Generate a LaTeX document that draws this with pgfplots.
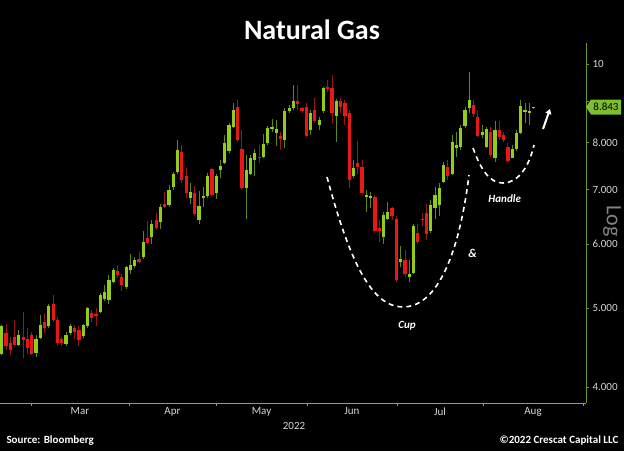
\documentclass[border=0pt]{standalone}
\usepackage{fontspec}
\setmainfont{Carlito}
\usepackage{pgfplots}
\usepackage{pgfplotstable}
\pgfplotsset{compat=1.18}
\usetikzlibrary{arrows.meta}
\definecolor{nggreen}{RGB}{145,205,25}
\definecolor{nggreenw}{RGB}{95,135,20}
\definecolor{ngred}{RGB}{235,22,22}
\definecolor{ngredw}{RGB}{150,25,25}
\definecolor{axgreen}{RGB}{100,150,40}
\definecolor{ticklbl}{RGB}{215,215,215}
\definecolor{axgray}{RGB}{150,150,150}
\definecolor{loggray}{RGB}{130,130,130}
\definecolor{lastfill}{RGB}{125,190,45}

\pgfplotstableread{
k o h l c
1 4.40 4.77 4.38 4.75
2 4.66 4.79 4.44 4.49
3 4.53 4.61 4.38 4.44
4 4.61 4.84 4.49 4.51
5 4.51 4.70 4.49 4.64
6 4.61 4.95 4.34 4.57
7 4.58 4.73 4.40 4.47
8 4.64 4.68 4.38 4.40
9 4.41 4.64 4.36 4.58
10 4.60 4.91 4.59 4.77
11 4.81 4.93 4.66 4.73
12 4.76 5.07 4.73 5.03
13 5.06 5.19 4.81 4.84
14 4.84 4.88 4.51 4.53
15 4.58 4.61 4.49 4.53
16 4.52 4.68 4.50 4.64
17 4.66 4.79 4.64 4.75
18 4.73 4.77 4.59 4.67
19 4.70 4.75 4.49 4.57
20 4.62 4.79 4.60 4.77
21 4.75 5.02 4.73 5.00
22 4.94 4.98 4.81 4.86
23 4.92 5.00 4.75 4.90
24 4.95 5.22 4.93 5.19
25 5.14 5.34 5.11 5.24
26 5.12 5.49 5.07 5.42
27 5.39 5.60 5.37 5.57
28 5.56 5.66 5.45 5.49
29 5.47 5.52 5.26 5.34
30 5.32 5.64 5.29 5.62
31 5.57 5.84 5.52 5.66
32 5.64 5.79 5.60 5.74
33 5.76 5.87 5.68 5.71
34 5.78 6.22 5.76 6.04
35 6.10 6.40 6.00 6.02
36 6.12 6.42 6.01 6.36
37 6.42 6.55 6.25 6.28
38 6.39 6.73 6.26 6.67
39 6.72 6.96 6.64 6.67
40 6.70 7.09 6.67 7.00
41 7.05 7.37 6.99 7.33
42 7.37 8.07 7.33 7.83
43 7.80 7.95 7.14 7.20
44 7.27 7.44 6.83 6.94
45 6.83 7.14 6.73 6.96
46 6.94 7.07 6.49 6.54
47 6.42 6.98 6.36 6.68
48 6.84 7.06 6.67 6.87
49 6.87 7.34 6.83 7.28
50 7.42 7.44 6.87 6.90
51 6.93 7.33 6.81 7.27
52 7.40 7.62 7.23 7.49
53 7.55 8.17 7.53 7.99
54 7.82 8.46 7.77 8.40
55 8.37 8.94 8.33 8.78
56 8.85 9.03 8.02 8.06
57 7.85 8.29 6.99 7.03
58 7.03 7.72 6.44 7.40
59 7.33 7.72 7.30 7.67
60 7.62 7.85 7.27 7.76
61 7.68 7.95 7.55 7.66
62 7.68 8.20 7.67 7.97
63 8.00 8.39 7.95 8.33
64 8.32 8.56 8.25 8.37
65 8.23 8.52 7.93 8.32
66 8.14 8.25 7.83 8.09
67 8.07 8.82 7.87 8.76
68 8.74 8.90 8.69 8.82
69 8.82 9.42 8.78 8.99
70 9.00 9.42 8.78 8.92
71 8.82 8.85 8.69 8.74
72 8.85 8.94 8.12 8.14
73 8.28 8.78 8.17 8.71
74 8.78 9.07 8.45 8.50
75 8.40 8.61 8.29 8.54
76 8.75 9.37 8.69 9.33
77 9.36 9.56 9.24 9.30
78 9.35 9.68 8.45 8.71
79 8.63 9.05 8.02 8.99
80 9.00 9.07 8.69 8.85
81 8.94 9.03 8.40 8.63
82 8.71 8.78 7.03 7.20
83 7.27 7.62 7.23 7.44
84 7.55 8.04 7.33 7.46
85 7.47 7.62 6.90 6.94
86 6.85 6.99 6.58 6.90
87 6.83 6.96 6.64 6.87
88 6.85 6.90 6.19 6.23
89 6.28 6.42 6.04 6.23
90 6.13 6.58 6.01 6.52
91 6.45 6.77 6.42 6.57
92 6.64 6.67 6.42 6.50
93 6.44 6.49 5.39 5.42
94 5.71 5.96 5.63 5.75
95 5.74 5.90 5.47 5.52
96 5.47 5.74 5.39 5.52
97 5.53 6.36 5.52 6.32
98 6.20 6.36 6.01 6.04
99 6.45 6.55 6.31 6.42
100 6.55 6.73 6.07 6.17
101 6.23 6.80 6.19 6.70
102 6.64 7.06 6.45 6.90
103 6.70 7.14 6.50 7.03
104 7.16 7.58 7.13 7.51
105 7.47 7.62 7.20 7.28
106 7.33 8.17 7.30 8.02
107 7.87 8.25 7.68 7.95
108 7.90 8.40 7.83 8.33
109 8.39 8.85 8.33 8.78
110 8.82 9.78 8.69 9.03
111 8.90 9.03 8.61 8.68
112 8.60 8.78 8.12 8.15
113 8.17 8.40 8.10 8.25
114 7.91 8.37 7.87 8.31
115 8.25 8.37 7.68 7.72
116 7.65 8.50 7.58 8.28
117 8.29 8.50 8.06 8.12
118 8.17 8.25 8.02 8.06
119 7.90 7.99 7.58 7.60
120 7.67 7.95 7.65 7.85
121 7.85 8.29 7.82 8.23
122 8.23 9.03 8.20 8.88
123 8.73 8.94 8.45 8.78
124 8.71 8.94 8.40 8.76
125 8.82 8.85 8.81 8.84
}\candles

\begin{document}
\begin{tikzpicture}
\fill[black] (0pt,-48pt) rectangle (624pt,403pt);
\begin{axis}[
  at={(0pt,0pt)}, anchor=south west,
  scale only axis, width=586pt, height=360pt,
  xmin=0.604, xmax=137.2,
  ymode=log, ymin=3.824, ymax=10.61,
  axis x line=bottom, axis y line=right,
  axis line style={-},
  x axis line style={draw=axgray, line width=0.8pt},
  y axis line style={draw=axgreen, line width=0.8pt},
  xtick={7.83,30.67,50.95,72.2,93.1,113.2,136.5},
  xticklabels={Mar,Apr,May,Jun,Jul,Aug},
  x tick label as interval,
  ytick={4,5,6,7,8,9,10},
  yticklabels={\mbox{4.000},\mbox{5.000},\mbox{6.000},\mbox{7.000},\mbox{8.000},{},\mbox{10}},
  yminorticks=false, xminorticks=false,
  tick align=outside,
  major tick length=3pt,
  xtick style={draw=axgray, line width=0.6pt},
  ytick style={draw=axgreen, line width=0.6pt},
  ticklabel style={font=\fontsize{11}{12}\selectfont, text=ticklbl},
  xticklabel style={yshift=2pt},
]
\pgfplotsforeachungrouped \r in {0,...,124}{%
  \pgfplotstablegetelem{\r}{k}\of\candles\let\cK\pgfplotsretval
  \pgfplotstablegetelem{\r}{o}\of\candles\let\cO\pgfplotsretval
  \pgfplotstablegetelem{\r}{h}\of\candles\let\cH\pgfplotsretval
  \pgfplotstablegetelem{\r}{l}\of\candles\let\cL\pgfplotsretval
  \pgfplotstablegetelem{\r}{c}\of\candles\let\cC\pgfplotsretval
  \ifdim\cC pt<\cO pt \def\bc{ngred}\def\wc{ngredw}\else\def\bc{nggreen}\def\wc{nggreenw}\fi
  \edef\tmp{%
    \noexpand\addplot[\wc, line width=0.9pt, forget plot] coordinates {(\cK,\cL) (\cK,\cH)};%
    \noexpand\addplot[\bc, line width=3.2pt, forget plot] coordinates {(\cK,\cO) (\cK,\cC)};%
  }\tmp
}
\end{axis}
% title
\node[text=white, font=\bfseries\fontsize{28}{30}\selectfont] at (312pt,373pt) {Natural Gas};
% year
\node[text=ticklbl, font=\fontsize{11}{12}\selectfont] at (294pt,-22.5pt) {2022};
% footer
\node[text=white, font=\bfseries\fontsize{11}{12}\selectfont, anchor=west] at (3pt,-38pt) {Source: Bloomberg};
\node[text=white, font=\bfseries\fontsize{11}{12}\selectfont, anchor=east] at (622pt,-38pt) {©2022 Crescat Capital LLC};
% Log label
\node[text=loggray, font=\fontsize{22}{24}\selectfont, rotate=-90] at (612pt,182pt) {Log};
% last price label
\fill[lastfill] (586pt,296pt) -- (591pt,303.5pt) -- (621pt,303.5pt) -- (621pt,288.5pt) -- (591pt,288.5pt) -- cycle;
\node[text=black, font=\fontsize{11}{12}\selectfont] at (606pt,296pt) {8.843};
% annotations
\draw[white, line width=1.6pt, dash pattern=on 5pt off 4pt]
  (327pt,226pt) .. controls (350pt,140pt) and (372pt,96pt) .. (403pt,96pt)
  .. controls (434pt,96pt) and (458pt,140pt) .. (469pt,228pt);
\draw[white, line width=1.6pt, dash pattern=on 5pt off 4pt]
  (473pt,255pt) .. controls (482pt,230pt) and (491pt,220pt) .. (503pt,220pt)
  .. controls (518pt,220pt) and (529pt,236pt) .. (534pt,258pt);
\draw[white, line width=2pt, -{Triangle[length=5pt,width=6pt]}] (543pt,274pt) -- (550pt,294pt);
\node[text=white, font=\bfseries\itshape\fontsize{11}{12}\selectfont] at (407pt,77pt) {Cup};
\node[text=white, font=\bfseries\itshape\fontsize{12}{13}\selectfont] at (472.5pt,150pt) {\&};
\node[text=white, font=\bfseries\itshape\fontsize{11}{12}\selectfont] at (504.7pt,204.5pt) {Handle};
\pgfresetboundingbox
\useasboundingbox (0pt,-48pt) rectangle (624pt,403pt);
\end{tikzpicture}
\end{document}
